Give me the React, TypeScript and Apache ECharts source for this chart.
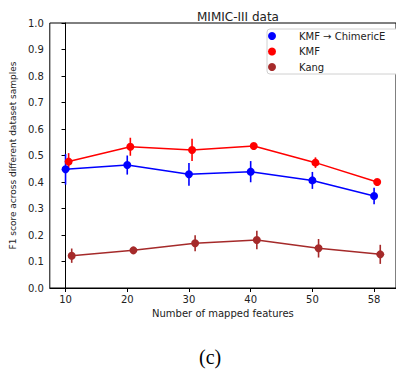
import React, { useEffect, useRef } from "react";
import * as echarts from "echarts";

const xTickLabels = ["10", "20", "30", "40", "50", "58"];
const seriesNames = ["KMF → ChimericE", "KMF", "Kang"];
const seriesColors = ["#0000ff", "#ff0000", "#a52a2a"];
const seriesOffsets = [0, 0.05, 0.1];

const chimericMean = [0.448, 0.464, 0.429, 0.439, 0.406, 0.347];
const chimericErr = [0.058, 0.036, 0.043, 0.04, 0.032, 0.031];
const kmfMean = [0.477, 0.533, 0.521, 0.536, 0.473, 0.4];
const kmfErr = [0.032, 0.034, 0.042, 0.01, 0.02, 0.006];
const kangMean = [0.122, 0.142, 0.169, 0.181, 0.15, 0.127];
const kangErr = [0.027, 0.012, 0.03, 0.035, 0.035, 0.036];

const means = [chimericMean, kmfMean, kangMean];
const errs = [chimericErr, kmfErr, kangErr];

export default function App() {
  const ref = useRef<HTMLDivElement>(null);
  useEffect(() => {
    if (!ref.current) return;
    const chart = echarts.init(ref.current, null, { renderer: "svg" });
    const font = "DejaVu Sans";
    const series: any[] = [];
    means.forEach((m, si) => {
      const off = seriesOffsets[si];
      series.push({
        type: "custom",
        name: seriesNames[si] + " err",
        z: 1,
        data: m.map((v, i) => [i + off, v - errs[si][i], v + errs[si][i]]),
        renderItem: (params: any, api: any) => {
          const p1 = api.coord([api.value(0), api.value(1)]);
          const p2 = api.coord([api.value(0), api.value(2)]);
          return {
            type: "line",
            shape: { x1: p1[0], y1: p1[1], x2: p2[0], y2: p2[1] },
            style: { stroke: seriesColors[si], lineWidth: 1.6 },
          };
        },
      });
    });
    means.forEach((m, si) => {
      const off = seriesOffsets[si];
      series.push({
        type: "line",
        name: seriesNames[si],
        z: 3,
        data: m.map((v, i) => [i + off, v]),
        symbol: "circle",
        symbolSize: 8,
        showSymbol: true,
        itemStyle: { color: seriesColors[si] },
        lineStyle: { color: seriesColors[si], width: 1.5 },
      });
    });
    chart.setOption({
      animation: false,
      title: {
        text: "MIMIC-III data",
        left: 192,
        top: 6,
        textStyle: { fontFamily: font, fontSize: 12, fontWeight: "normal", color: "#222" },
      },
      legend: {
        data: seriesNames,
        orient: "vertical",
        left: 267,
        top: 29,
        icon: "circle",
        itemWidth: 18,
        itemHeight: 8,
        itemGap: 5.5,
        padding: [2, 60, 2, 1],
        borderColor: "#d0d0d0",
        borderWidth: 1,
        borderRadius: 3,
        backgroundColor: "#fff",
        textStyle: { fontFamily: font, fontSize: 10, color: "#222", lineHeight: 10, padding: [0, 0, 0, 13] },
      },
      grid: { left: 48, top: 23, right: -6.4, bottom: 86, show: true, borderColor: "#000", borderWidth: 1 },
      xAxis: {
        type: "value",
        min: -0.255,
        max: 5.355,
        name: "Number of mapped features",
        nameLocation: "middle",
        nameGap: 19,
        nameTextStyle: { fontFamily: font, fontSize: 10, color: "#222" },
        splitLine: { show: false },
        axisLine: { lineStyle: { color: "#000" } },
        axisTick: { customValues: [0, 1, 2, 3, 4, 5], length: 4, lineStyle: { color: "#000" } },
        axisLabel: {
          customValues: [0, 1, 2, 3, 4, 5],
          formatter: (v: number) => xTickLabels[Math.round(v)] ?? "",
          fontFamily: font,
          fontSize: 10,
          color: "#222",
          margin: 6,
        },
      },
      yAxis: {
        type: "value",
        min: 0,
        max: 1,
        interval: 0.1,
        name: "F1 score across different dataset samples",
        nameLocation: "middle",
        nameGap: 25,
        nameTextStyle: { fontFamily: font, fontSize: 9, color: "#222" },
        splitLine: { show: false },
        axisLine: { show: true, lineStyle: { color: "#000" } },
        axisTick: { show: true, length: 4, lineStyle: { color: "#000" } },
        axisLabel: {
          formatter: (v: number) => v.toFixed(1),
          fontFamily: font,
          fontSize: 10,
          color: "#222",
          margin: 6,
        },
      },
      graphic: [
        {
          type: "text",
          left: 199,
          top: 347,
          style: { text: "(c)", font: "20px 'Liberation Serif', serif", fill: "#000" },
        },
      ],
      series,
    });
    return () => chart.dispose();
  }, []);
  return <div ref={ref} style={{ position: "absolute", left: 0, top: 0, width: 396, height: 374 }} />;
}
